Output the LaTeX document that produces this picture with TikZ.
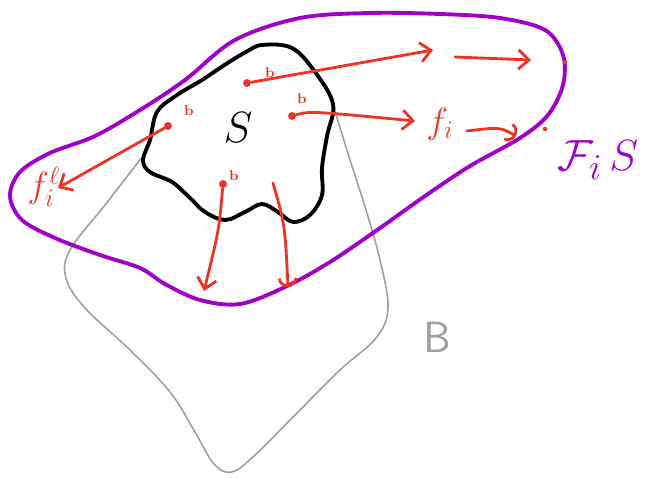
\documentclass[tikz,border=0pt]{standalone}
\usepackage{amsmath,amssymb}
\usepackage{xcolor}
\usetikzlibrary{positioning,arrows.meta}
\definecolor{fpurple}{RGB}{160,0,200}
\definecolor{sred}{RGB}{236,52,36}

\begin{document}
\begin{tikzpicture}[x=0.02cm, y=-0.02cm, line cap=round, line join=round]
    \tikzstyle{pt}=[circle, fill=sred, inner sep=0pt, minimum size=4.5pt]
    \tikzstyle{speck}=[circle, fill=sred, inner sep=0pt, minimum size=2.5pt]
    \tikzstyle{blabel}=[font=\footnotesize\bfseries, text=sred, inner sep=0pt]
    \tikzstyle{ray}=[draw=sred, line width=1.6pt, -{Straight Barb[length=6pt, width=11pt, line width=1.6pt]}]
    \tikzstyle{hookray}=[draw=sred, line width=1.6pt, -{Arc Barb[length=5pt, width=11pt, line width=1.6pt]}]
    \useasboundingbox (0,0) rectangle (648,477);

    % B (gray region)
    \draw[gray!75, line width=0.9pt] plot[smooth, tension=0.6] coordinates {
        (143,156) (105,205) (70,250) (66,278) (85,308) (130,350) (170,392)
        (195,432) (214,464) (232,472) (255,455) (295,415) (340,370) (376,338)
        (388,308) (380,260) (366,210) (350,160) (334,108)};
    \node[text=gray!75, font=\fontsize{25}{28}\selectfont] (B) at (437,337) {$\mathsf{B}$};

    % F_i S (purple region)
    \draw[fpurple, line width=2.2pt] plot[smooth cycle, tension=0.55] coordinates {
        (235,40) (300,18) (370,13) (440,14) (500,18) (545,30) (563,55) (563,85)
        (548,115) (520,138) (470,166) (425,196) (380,228) (330,262) (285,287)
        (240,304) (200,300) (165,284) (140,268) (100,255) (55,238) (22,220)
        (10,196) (20,172) (50,153) (95,136) (140,110) (185,80)};
    \node[text=fpurple, font=\fontsize{28}{30}\selectfont] (FiS) at (598,160) {$\mathcal{F}_{i}\,S$};

    % S (black blob)
    \draw[black, line width=2.2pt] plot[smooth cycle, tension=0.6] coordinates {
        (262,45) (292,48) (315,72) (333,104) (327,136) (322,168) (322,195)
        (310,215) (293,222) (278,212) (262,204) (245,212) (225,220) (205,212)
        (190,198) (172,182) (150,172) (143,160) (150,140) (157,112) (177,95)
        (202,80) (226,64) (246,52)};
    \node[font=\fontsize{26}{28}\selectfont] (S) at (238,128) {$S$};

    % sample points b
    \node[pt] (p1) at (247,83) {};
    \node[blabel] at (270,73) {b};
    \node[pt] (p2) at (168,126) {};
    \node[blabel] at (189,111) {b};
    \node[pt] (p3) at (292,116) {};
    \node[blabel] at (302,99) {b};
    \node[pt] (p4) at (223,184) {};
    \node[blabel] at (234,176) {b};
    \coordinate (p5) at (273,183);

    % images of the points
    \coordinate (t1) at (433,50);
    \coordinate (u1) at (455,57);
    \coordinate (v1) at (531,60);
    \node[speck] (e1) at (565,62) {};

    \coordinate (t2) at (415,121);
    \node[text=sred, font=\fontsize{22}{24}\selectfont] (fi) at (440,124) {$f_i$};
    \coordinate (u2) at (467,131);
    \coordinate (v2) at (516,136);
    \node[speck] (e2) at (545,129) {};

    \coordinate (t3) at (58,188);
    \node[text=sred, font=\fontsize{20}{22}\selectfont] (fil) at (44,187) {$f_i^{\ell}$};

    \coordinate (t4) at (204,291);
    \coordinate (t5) at (288,287);

    % arrows
    \draw[ray] (p1) -- (t1);
    \draw[ray] (u1) -- (v1);
    \draw[ray] (p3) .. controls (310,111) .. (t2);
    \draw[hookray] (u2) .. controls (500,127) .. (v2);
    \draw[ray] (p2) -- (t3);
    \draw[ray] (p4) .. controls (219,230) .. (t4);
    \draw[hookray] (p5) .. controls (285,225) .. (t5);
\end{tikzpicture}
\end{document}
